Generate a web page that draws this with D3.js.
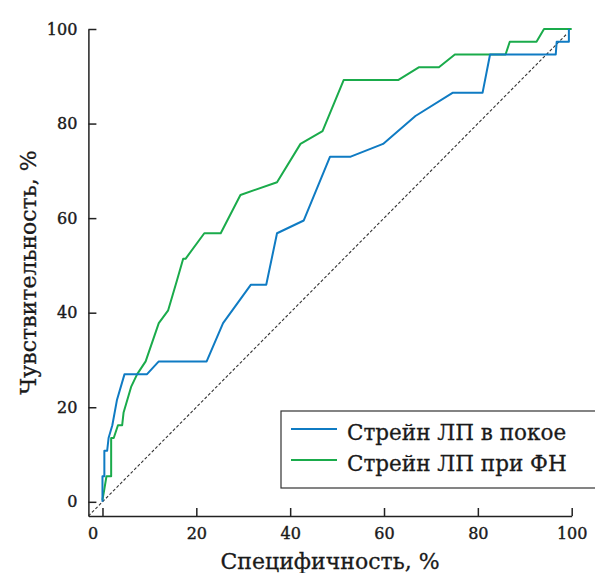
<!DOCTYPE html>
<html>
<head>
<meta charset="utf-8">
<script src="https://cdn.jsdelivr.net/npm/d3@7"></script>
<style>
  body { margin: 0; background: #fff; }
  svg { display: block; }
  .axis text { font-family: "DejaVu Serif", serif; font-size: 16px; fill: #1a1a1a; stroke: #1a1a1a; stroke-width: 0.4; }
  .axis path, .axis line { stroke: #222; stroke-width: 1.5; }
  .lbl { font-family: "DejaVu Serif", serif; fill: #1a1a1a; stroke: #1a1a1a; stroke-width: 0.3; }
</style>
</head>
<body>
<div id="chart"></div>
<script>
// ROC-кривые: специфичность (x) / чувствительность (y), %
var restX = [0, 0, 0.4, 0.4, 1.0, 1.3, 2.1, 3.1, 4.7, 9.5, 12.0, 22.2, 25.7, 31.6, 34.9, 37.2, 42.9, 48.5, 52.9, 59.8, 66.7, 74.6, 81.0, 82.6, 96.6, 96.8, 99.4, 99.4];
var restY = [0, 5.4, 5.4, 10.8, 10.8, 13.5, 16.2, 21.6, 27.0, 27.0, 29.7, 29.7, 37.8, 45.9, 45.9, 56.8, 59.5, 73.0, 73.0, 75.7, 81.6, 86.5, 86.5, 94.6, 94.6, 97.3, 97.3, 100];

var loadX = [0, 0.4, 0.85, 1.85, 1.85, 2.4, 3.3, 4.2, 4.5, 6.1, 7.4, 9.2, 12.0, 14.0, 15.9, 17.2, 17.7, 21.7, 25.2, 29.4, 37.2, 42.2, 46.9, 51.4, 63.0, 67.4, 71.7, 75.1, 85.9, 86.8, 92.5, 94.1, 100];
var loadY = [0.4, 2.7, 5.4, 5.4, 13.5, 13.5, 16.2, 16.2, 18.9, 24.3, 27.0, 29.7, 37.8, 40.5, 46.9, 51.4, 51.4, 56.8, 56.8, 64.9, 67.6, 75.7, 78.4, 89.2, 89.2, 91.9, 91.9, 94.6, 94.6, 97.3, 97.3, 100, 100];

var diagX = [-3, 99];
var tickValues = [0, 20, 40, 60, 80, 100];
var seriesNames = ["Стрейн ЛП в покое", "Стрейн ЛП при ФН"];
var seriesColors = ["#0f7bc3", "#1aab4b"];

var width = 595, height = 573;

var svg = d3.select("#chart").append("svg")
    .attr("width", width)
    .attr("height", height);

var x = d3.scaleLinear().domain([-3, 100]).range([88.4, 571.7]);
var y = d3.scaleLinear().domain([-3, 100]).range([516, 29]);

// оси
var xAxis = svg.append("g")
    .attr("class", "axis")
    .attr("transform", "translate(0," + y(-3) + ")")
    .call(d3.axisBottom(x).tickValues(tickValues).tickSizeInner(-8).tickSizeOuter(0).tickPadding(12));
xAxis.selectAll(".tick text")
    .attr("dx", function(d) { return d === 0 ? -10 : 0; });

svg.append("g")
    .attr("class", "axis")
    .attr("transform", "translate(" + x(-3) + ",0)")
    .call(d3.axisLeft(y).tickValues(tickValues).tickSizeInner(-8).tickSizeOuter(0).tickPadding(11));

// диагональ
svg.append("line")
    .attr("x1", x(diagX[0])).attr("y1", y(diagX[0]))
    .attr("x2", x(diagX[1])).attr("y2", y(diagX[1]))
    .style("stroke", "#333")
    .style("stroke-width", 1.1)
    .style("stroke-dasharray", "3,2");

var line = d3.line()
    .x(function(d) { return x(d[0]); })
    .y(function(d) { return y(d[1]); });

var series = [
    d3.zip(restX, restY),
    d3.zip(loadX, loadY)
];

// зелёная под синей
[1, 0].forEach(function(i) {
    svg.append("path")
        .datum(series[i])
        .attr("d", line)
        .style("fill", "none")
        .style("stroke", seriesColors[i])
        .style("stroke-width", 2)
        .style("stroke-linejoin", "round");
});

// подписи осей
svg.append("text")
    .attr("class", "lbl")
    .attr("x", (x(-3) + x(100)) / 2)
    .attr("y", 569)
    .attr("text-anchor", "middle")
    .style("font-size", "22px")
    .text("Специфичность, %");

svg.append("text")
    .attr("class", "lbl")
    .attr("transform", "translate(36," + (y(-3) + y(100)) / 2 + ") rotate(-90)")
    .attr("text-anchor", "middle")
    .style("font-size", "22px")
    .text("Чувствительность, %");

// легенда
var legend = svg.append("g").attr("transform", "translate(281,411)");
legend.append("rect")
    .attr("width", 320).attr("height", 77)
    .style("fill", "#fff")
    .style("stroke", "#333")
    .style("stroke-width", 1.2);

var item = legend.selectAll(".item")
    .data(seriesNames)
    .enter().append("g")
    .attr("class", "item")
    .attr("transform", function(d, i) { return "translate(0," + (18 + i * 31) + ")"; });

item.append("line")
    .attr("x1", 10).attr("x2", 56)
    .style("stroke", function(d, i) { return seriesColors[i]; })
    .style("stroke-width", 2);

item.append("text")
    .attr("class", "lbl")
    .attr("x", 66)
    .attr("y", 11)
    .style("font-size", "21.5px")
    .text(function(d) { return d; });
</script>
</body>
</html>
